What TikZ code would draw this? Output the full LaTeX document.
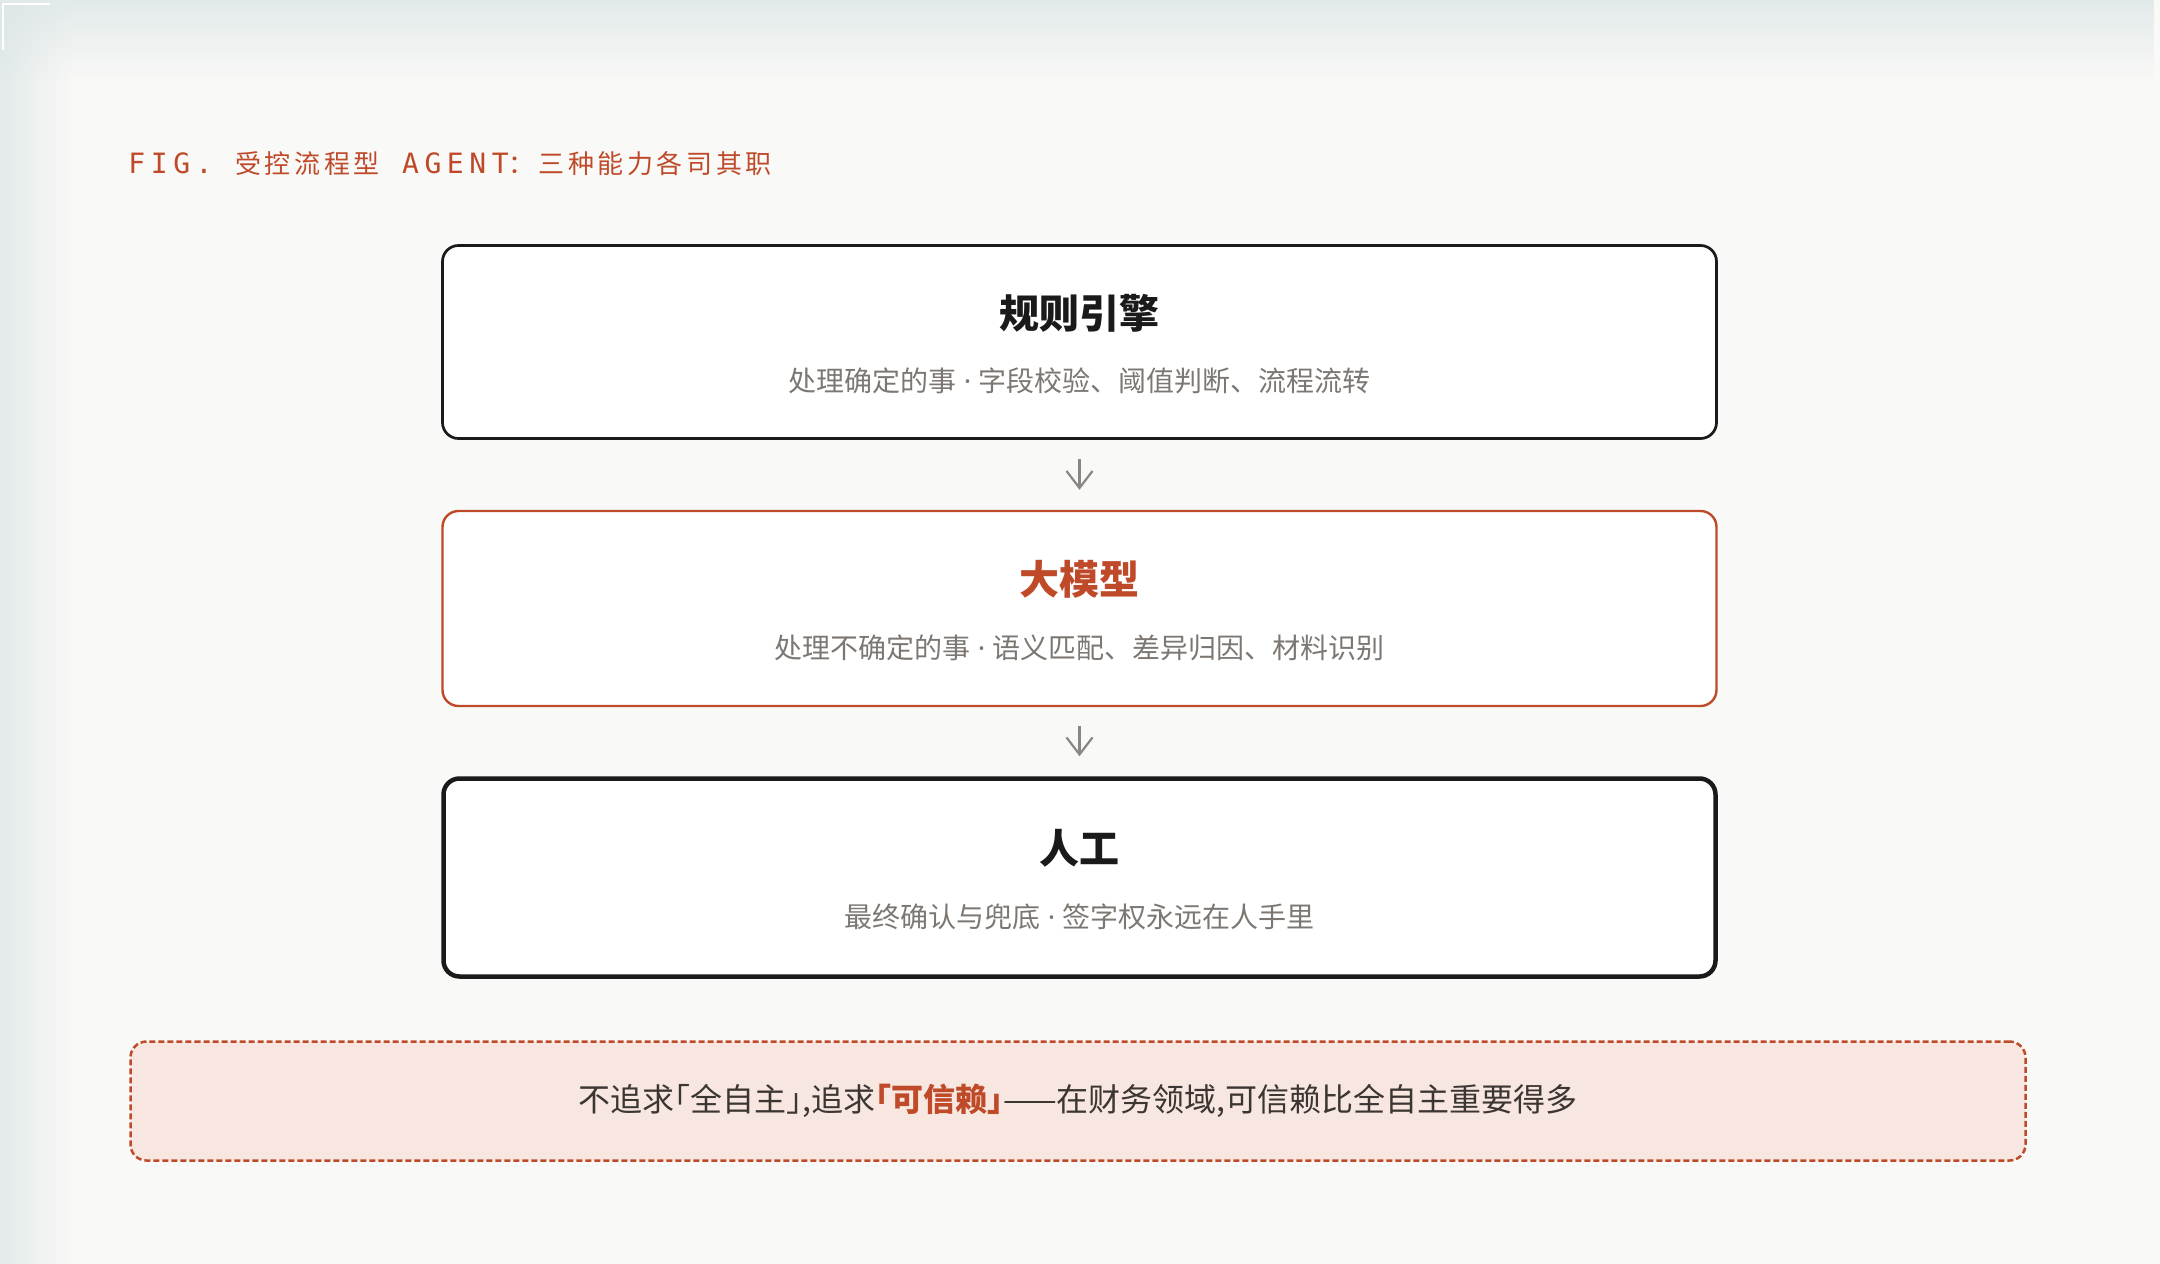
\documentclass[tikz,border=0pt]{standalone}
\usepackage{fontspec}
\setmainfont{Noto Sans CJK SC}
\newfontfamily\figmono{DejaVu Sans Mono}[LetterSpace=20]
\newfontfamily\figcjk{Noto Sans CJK SC}[LetterSpace=14]
\newfontfamily\notefont{Noto Sans CJK SC}[CharacterWidth=AlternateHalf]
\newfontfamily\dotfont{Noto Sans}
\usetikzlibrary{arrows.meta, positioning, fadings}

\definecolor{pagebg}{HTML}{F9F9F7}
\definecolor{edgetint}{HTML}{DCE5E6}
\definecolor{rust}{HTML}{BF4A2A}
\definecolor{ink}{HTML}{1A1A1A}
\definecolor{subgray}{HTML}{7C7772}
\definecolor{notefill}{HTML}{F7E7E0}
\definecolor{notetext}{HTML}{3B3632}
\definecolor{arrowgray}{HTML}{8A8682}

\newcommand{\sep}{{\dotfont\ ·\ }}

\tikzset{
  layer/.style={draw, rounded corners=8pt, fill=white, minimum width=637pt, inner sep=0pt},
  rulebox/.style={draw=ink, line width=1.35pt, minimum height=96.5pt},
  modelbox/.style={draw=rust, line width=1.2pt, minimum height=97.5pt},
  humanbox/.style={draw=ink, line width=2.25pt, minimum height=99pt, minimum width=636pt},
  layertitle/.style={font=\fontsize{20}{22}\selectfont\bfseries, inner sep=0pt},
  layersub/.style={font=\fontsize{14}{16}\selectfont, text=subgray, inner sep=0pt},
  flow/.style={draw=arrowgray, line width=1.1pt, shorten <=9.5pt, shorten >=10pt,
    -{Straight Barb[length=8.5pt, width=13pt]}},
  note/.style={draw=rust, fill=notefill, line width=1.25pt, dash pattern=on 3pt off 1.5pt,
    rounded corners=8pt, minimum width=947.5pt, minimum height=59.5pt,
    font=\notefont\fontsize{16}{18}\selectfont, text=notetext},
}

\begin{document}
\begin{tikzpicture}[x=0.5pt, y=-0.5pt]
  % page and edge tint
  \fill[pagebg] (0,0) rectangle (2160,1264);
  \useasboundingbox (0,0) rectangle (2160,1264);
  \begin{scope}
    \clip (0,0) rectangle (2160,1264);
    \fill[edgetint, path fading=east] (-25,0) rectangle (72,1264);
    \fill[edgetint, path fading=south] (0,-25) rectangle (2160,80);
  \end{scope}
  \draw[white, line width=1.2pt] (3,50) -- (3,4) -- (50,4);

  \node[anchor=base west, inner sep=0pt, text=rust] (figtitle) at (128,173)
    {{\figmono\fontsize{14}{16}\selectfont FIG.\ }{\figcjk\fontsize{13}{15}\selectfont 受控流程型}%
     {\figmono\fontsize{14}{16}\selectfont\ AGENT}{\figcjk\fontsize{13}{15}\selectfont ：三种能力各司其职}};

  \foreach \i/\yy/\kind/\hue/\head/\sub in {
    1/342/rulebox/ink/规则引擎/处理确定的事\sep 字段校验、阈值判断、流程流转,
    2/608.5/modelbox/rust/大模型/处理不确定的事\sep 语义匹配、差异归因、材料识别,
    3/877.5/humanbox/ink/人工/最终确认与兜底\sep 签字权永远在人手里} {
    \node[layer, \kind] (b\i) at (1079.5,\yy) {};
    \node[layertitle, text=\hue] (t\i) at ([yshift=14.5pt]b\i.center) {\head};
    \node[layersub] (s\i) at ([yshift=-19.5pt]b\i.center) {\sub};
  }

  \draw
    (b1) edge[flow] (b2)
    (b2) edge[flow] (b3);

  \node[note] (takeaway) at (1078,1101)
    {不追求「全自主」,追求{\bfseries\color{rust}「可信赖」}——在财务领域,可信赖比全自主重要得多};
\end{tikzpicture}
\end{document}
